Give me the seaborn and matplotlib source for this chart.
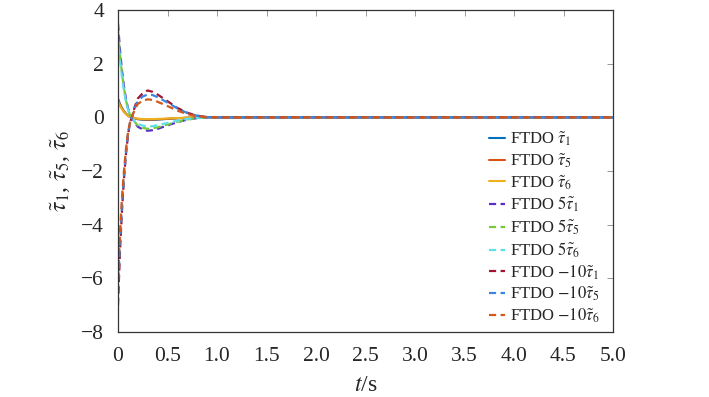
import matplotlib
matplotlib.use("Agg")
import matplotlib.pyplot as plt
import seaborn as sns
import numpy as np

# ---- data ----
t = [0, 0.02, 0.04, 0.06, 0.08, 0.10, 0.12, 0.14, 0.17, 0.20, 0.25, 0.30, 0.35,
     0.40, 0.50, 0.60, 0.70, 0.80, 0.90, 1.00, 1.50, 2.00, 2.50, 3.00, 3.50,
     4.00, 4.50, 5.00]

tau1 = [0.70, 0.50, 0.35, 0.23, 0.14, 0.07, 0.02, 0.00, -0.04, -0.07, -0.09, -0.10, -0.095,
        -0.085, -0.06, -0.035, -0.017, -0.006, -0.001, 0, 0, 0, 0, 0, 0, 0, 0, 0]
tau5 = [0.65, 0.47, 0.33, 0.22, 0.13, 0.065, 0.02, 0.00, -0.035, -0.06, -0.078, -0.085, -0.083,
        -0.075, -0.055, -0.033, -0.016, -0.006, -0.001, 0, 0, 0, 0, 0, 0, 0, 0, 0]
tau6 = [0.60, 0.43, 0.30, 0.20, 0.12, 0.06, 0.02, 0.00, -0.03, -0.05, -0.062, -0.067, -0.065,
        -0.058, -0.042, -0.025, -0.012, -0.004, -0.001, 0, 0, 0, 0, 0, 0, 0, 0, 0]

tau1_x5 = [3.50, 2.50, 1.75, 1.15, 0.70, 0.35, 0.10, 0.00, -0.20, -0.35, -0.45, -0.50, -0.48,
           -0.43, -0.30, -0.18, -0.085, -0.03, -0.005, 0, 0, 0, 0, 0, 0, 0, 0, 0]
tau5_x5 = [3.25, 2.35, 1.65, 1.10, 0.65, 0.33, 0.10, 0.00, -0.18, -0.30, -0.39, -0.43, -0.41,
           -0.37, -0.27, -0.16, -0.08, -0.03, -0.005, 0, 0, 0, 0, 0, 0, 0, 0, 0]
tau6_x5 = [3.00, 2.15, 1.50, 1.00, 0.60, 0.30, 0.10, 0.00, -0.15, -0.25, -0.31, -0.34, -0.33,
           -0.29, -0.21, -0.125, -0.06, -0.02, -0.005, 0, 0, 0, 0, 0, 0, 0, 0, 0]

tau1_xm10 = [-7.00, -5.00, -3.50, -2.30, -1.40, -0.70, -0.20, 0.00, 0.40, 0.70, 0.90, 1.00, 0.95,
             0.85, 0.60, 0.35, 0.17, 0.06, 0.01, 0, 0, 0, 0, 0, 0, 0, 0, 0]
tau5_xm10 = [-6.50, -4.70, -3.30, -2.20, -1.30, -0.65, -0.20, 0.00, 0.35, 0.60, 0.78, 0.85, 0.83,
             0.75, 0.55, 0.33, 0.16, 0.06, 0.01, 0, 0, 0, 0, 0, 0, 0, 0, 0]
tau6_xm10 = [-6.00, -4.30, -3.00, -2.00, -1.20, -0.60, -0.20, 0.00, 0.30, 0.50, 0.62, 0.67, 0.65,
             0.58, 0.42, 0.25, 0.12, 0.04, 0.01, 0, 0, 0, 0, 0, 0, 0, 0, 0]

labels = [r"FTDO $\tilde{\tau}_1$", r"FTDO $\tilde{\tau}_5$", r"FTDO $\tilde{\tau}_6$",
          r"FTDO $5\tilde{\tau}_1$", r"FTDO $5\tilde{\tau}_5$", r"FTDO $5\tilde{\tau}_6$",
          r"FTDO $-10\tilde{\tau}_1$", r"FTDO $-10\tilde{\tau}_5$", r"FTDO $-10\tilde{\tau}_6$"]
series = [tau1, tau5, tau6, tau1_x5, tau5_x5, tau6_x5, tau1_xm10, tau5_xm10, tau6_xm10]
colors = ["#0072BD", "#D95319", "#EDB120", "#5B2FC0", "#77C83A", "#5EE0E6",
          "#A2142F", "#3A85E0", "#D2581E"]
solid = [True, True, True, False, False, False, False, False, False]

xticks = [0, 0.5, 1.0, 1.5, 2.0, 2.5, 3.0, 3.5, 4.0, 4.5, 5.0]
xticklabels = ["0", "0.5", "1.0", "1.5", "2.0", "2.5", "3.0", "3.5", "4.0", "4.5", "5.0"]
yticks = [-8, -6, -4, -2, 0, 2, 4]
yticklabels = ["\u22128", "\u22126", "\u22124", "\u22122", "0", "2", "4"]

# ---- style ----
sns.set_theme(style="white")
plt.rcParams["font.family"] = ["Liberation Serif", "DejaVu Serif"]
plt.rcParams["mathtext.fontset"] = "stix"

fig = plt.figure(figsize=(7.09, 3.97), dpi=100)
ax = fig.add_axes([118 / 709, 1 - 332 / 397, (613 - 118) / 709, (332 - 10) / 397])

for y, lab, c, s in zip(series, labels, colors, solid):
    if s:
        sns.lineplot(x=t, y=y, ax=ax, color=c, linewidth=1.5, label=lab)
    else:
        sns.lineplot(x=t, y=y, ax=ax, color=c, linewidth=1.6,
                     linestyle=(0, (3.2, 2.0)), label=lab)

ax.set_xlim(0, 5)
ax.set_ylim(-8, 4)
ax.set_xticks(xticks)
ax.set_yticks(yticks)
ax.set_xticklabels(xticklabels, fontfamily="Liberation Serif", fontsize=15.5)
ax.set_yticklabels(yticklabels, fontfamily="Liberation Serif", fontsize=15.5)
ax.tick_params(direction="in", length=4, width=0.6, color="#888888",
               top=True, right=True)
ax.tick_params(axis="x", pad=11)
ax.tick_params(axis="y", pad=10)
for sp in ax.spines.values():
    sp.set_color("#333333")
    sp.set_linewidth(0.9)

ax.set_xlabel(r"$\it{t}$/s", fontsize=17, labelpad=6, fontfamily="Liberation Serif")
ax.set_ylabel(r"$\tilde{\tau}_1$, $\tilde{\tau}_5$, $\tilde{\tau}_6$", fontsize=17, labelpad=6)

leg = ax.legend(loc="lower right", bbox_to_anchor=(0.995, -0.01), frameon=False,
                fontsize=12, handlelength=1.0, handletextpad=0.3,
                labelspacing=0.2, borderaxespad=0.2)

fig.savefig("out.png", dpi=100)
